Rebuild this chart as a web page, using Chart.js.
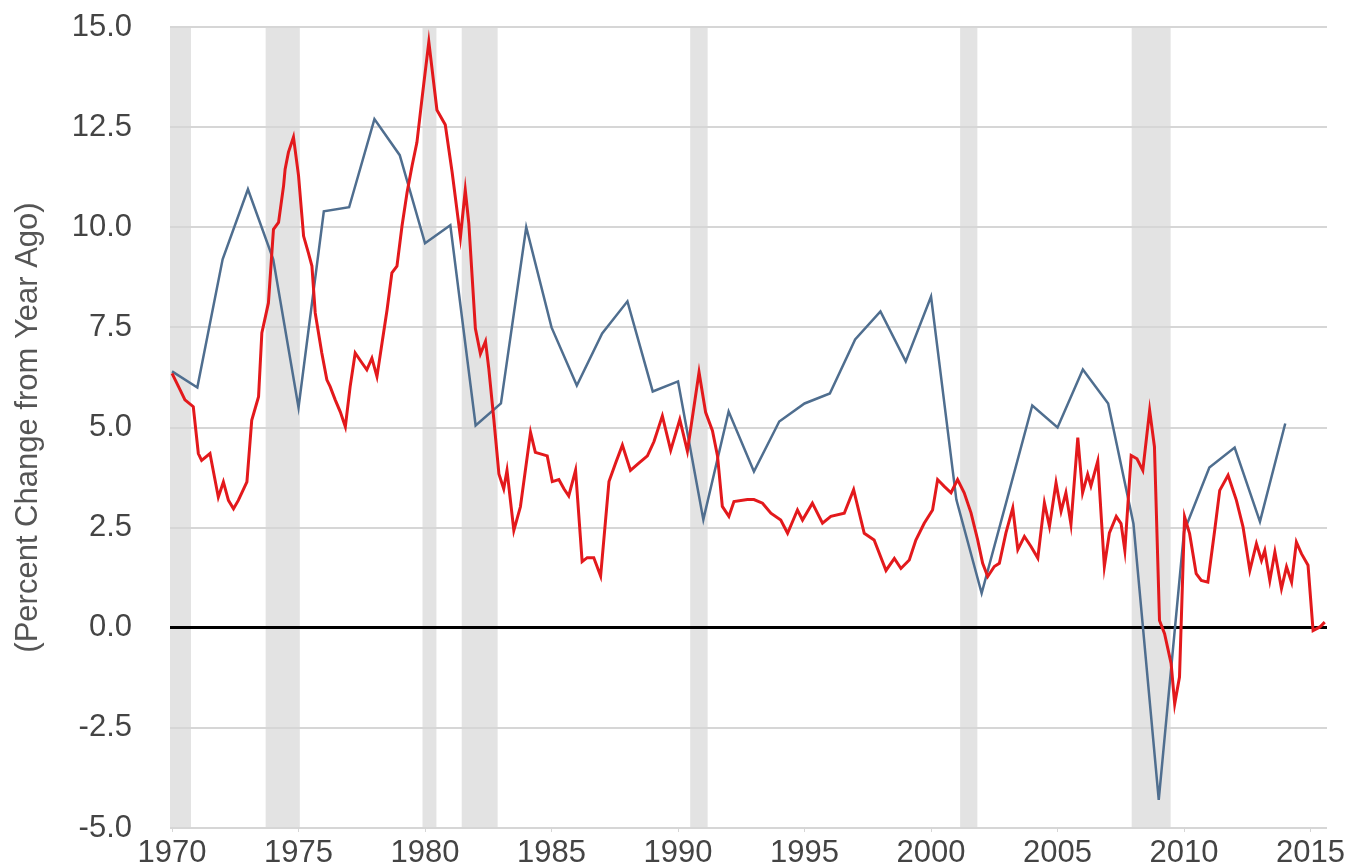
<!DOCTYPE html>
<html>
<head>
<meta charset="utf-8">
<title>Percent Change from Year Ago</title>
<script src="https://cdn.jsdelivr.net/npm/chart.js@4.4.1/dist/chart.umd.min.js"></script>
<style>
  html, body { margin: 0; padding: 0; background: #fff; }
  #wrap { width: 1360px; height: 868px; }
</style>
</head>
<body>
<div id="wrap"><canvas id="line-chart" width="1360" height="868"></canvas></div>
<script>
// annual series (blue), one point per year
const blueYears = [1970, 1971, 1972, 1973, 1974, 1975, 1976, 1977, 1978, 1979,
    1980, 1981, 1982, 1983, 1984, 1985, 1986, 1987, 1988, 1989,
    1990, 1991, 1992, 1993, 1994, 1995, 1996, 1997, 1998, 1999,
    2000, 2001, 2002, 2003, 2004, 2005, 2006, 2007, 2008, 2009,
    2010, 2011, 2012, 2013, 2014];
const blueValues = [6.4, 6.0, 9.2, 10.95, 9.2, 5.5, 10.4, 10.5, 12.7, 11.8,
    9.6, 10.05, 5.05, 5.6, 10.0, 7.5, 6.05, 7.35, 8.15, 5.9,
    6.15, 2.7, 5.4, 3.9, 5.15, 5.6, 5.85, 7.2, 7.9, 6.65,
    8.27, 3.2, 0.86, 3.2, 5.55, 5.0, 6.45, 5.6, 2.6, -4.3,
    2.4, 4.0, 4.5, 2.65, 5.1];

// monthly-ish series (red)
const redYears = [1970.0, 1970.32, 1970.51, 1970.84, 1971.04, 1971.17, 1971.5, 1971.83, 1972.03, 1972.23,
    1972.43, 1972.62, 1972.96, 1973.15, 1973.42, 1973.55, 1973.81, 1974.01, 1974.21, 1974.41,
    1974.47, 1974.6, 1974.8, 1975.0, 1975.2, 1975.39, 1975.53, 1975.66, 1975.92, 1976.12,
    1976.25, 1976.45, 1976.65, 1976.85, 1977.04, 1977.24, 1977.51, 1977.7, 1977.9, 1978.1,
    1978.3, 1978.5, 1978.69, 1978.89, 1979.09, 1979.29, 1979.49, 1979.68, 1979.88, 1980.15,
    1980.47, 1980.8, 1981.07, 1981.4, 1981.59, 1981.73, 1981.99, 1982.19, 1982.39, 1982.52,
    1982.72, 1982.92, 1983.11, 1983.24, 1983.51, 1983.77, 1984.17, 1984.36, 1984.83, 1985.03,
    1985.29, 1985.49, 1985.68, 1985.95, 1986.21, 1986.41, 1986.67, 1986.94, 1987.27, 1987.53,
    1987.8, 1988.12, 1988.45, 1988.79, 1989.05, 1989.38, 1989.71, 1990.07, 1990.37, 1990.83,
    1991.09, 1991.36, 1991.56, 1991.75, 1992.01, 1992.21, 1992.74, 1993.0, 1993.34, 1993.67,
    1994.06, 1994.33, 1994.72, 1994.92, 1995.31, 1995.71, 1996.04, 1996.57, 1996.94, 1997.36,
    1997.75, 1998.22, 1998.55, 1998.81, 1999.14, 1999.4, 1999.73, 2000.06, 2000.26, 2000.52,
    2000.79, 2001.05, 2001.31, 2001.58, 2001.84, 2002.04, 2002.24, 2002.5, 2002.7, 2002.96,
    2003.23, 2003.43, 2003.69, 2003.95, 2004.22, 2004.48, 2004.68, 2004.94, 2005.14, 2005.33,
    2005.53, 2005.8, 2005.99, 2006.19, 2006.32, 2006.59, 2006.85, 2007.05, 2007.32, 2007.51,
    2007.66, 2007.91, 2008.14, 2008.37, 2008.64, 2008.83, 2009.03, 2009.23, 2009.49, 2009.63,
    2009.82, 2010.02, 2010.22, 2010.48, 2010.68, 2010.94, 2011.21, 2011.41, 2011.74, 2012.07,
    2012.33, 2012.6, 2012.86, 2013.06, 2013.19, 2013.39, 2013.59, 2013.85, 2014.05, 2014.25,
    2014.44, 2014.64, 2014.9, 2015.1, 2015.37, 2015.56];
const redValues = [6.35, 5.94, 5.69, 5.52, 4.35, 4.18, 4.35, 3.26, 3.64, 3.18,
    2.97, 3.18, 3.64, 5.18, 5.77, 7.36, 8.11, 9.95, 10.12, 11.04,
    11.45, 11.87, 12.25, 11.29, 9.78, 9.36, 9.03, 7.86, 6.86, 6.19,
    6.02, 5.69, 5.39, 5.02, 6.02, 6.86, 6.61, 6.44, 6.73, 6.27,
    7.11, 7.94, 8.86, 9.03, 10.03, 10.87, 11.54, 12.12, 13.21, 14.63,
    12.93, 12.56, 11.38, 9.75, 10.93, 10.1, 7.47, 6.84, 7.15, 6.47,
    5.2, 3.84, 3.47, 3.93, 2.43, 3.02, 4.88, 4.38, 4.29, 3.65,
    3.7, 3.47, 3.29, 3.93, 1.65, 1.75, 1.75, 1.29, 3.65, 4.11,
    4.56, 3.93, 4.11, 4.29, 4.65, 5.29, 4.43, 5.2, 4.41, 6.38,
    5.38, 4.92, 4.29, 3.03, 2.78, 3.15, 3.2, 3.2, 3.11, 2.86,
    2.69, 2.36, 2.94, 2.69, 3.11, 2.61, 2.78, 2.86, 3.45, 2.36,
    2.19, 1.43, 1.73, 1.48, 1.69, 2.19, 2.61, 2.94, 3.7, 3.53,
    3.37, 3.7, 3.37, 2.87, 2.2, 1.61, 1.28, 1.53, 1.61, 2.37,
    2.99, 1.95, 2.28, 2.03, 1.74, 3.12, 2.53, 3.62, 2.91, 3.37,
    2.58, 4.75, 3.37, 3.83, 3.54, 4.16, 1.53, 2.37, 2.78, 2.6,
    1.93, 4.3, 4.22, 3.93, 5.43, 4.52, 0.18, -0.15, -0.9, -1.9,
    -1.23, 2.77, 2.35, 1.35, 1.18, 1.14, 2.43, 3.43, 3.81, 3.18,
    2.52, 1.43, 2.1, 1.68, 1.93, 1.18, 1.89, 0.98, 1.52, 1.14,
    2.14, 1.85, 1.56, -0.07, 0.02, 0.14];

// shaded recessions (start, end as fractional years)
const recessionStart = [1969.9, 1973.7, 1979.9, 1981.45, 1990.48, 2001.15, 2007.93];
const recessionEnd = [1970.75, 1975.05, 1980.45, 1982.87, 1991.17, 2001.83, 2009.47];

const xTicks = [1970, 1975, 1980, 1985, 1990, 1995, 2000, 2005, 2010, 2015];
const yAxisTitle = '(Percent Change from Year Ago)';

const toPoints = (xs, ys) => xs.map((x, i) => ({x: x, y: ys[i]}));

// grey bars behind everything, placed with the x scale
const recessionBands = {
    id: 'recessionBands',
    beforeDraw(chart) {
        const {ctx, chartArea, scales} = chart;
        ctx.save();
        ctx.fillStyle = '#e3e3e3';
        recessionStart.forEach((s, i) => {
            const x0 = Math.max(scales.x.getPixelForValue(s), chartArea.left);
            const x1 = Math.min(scales.x.getPixelForValue(recessionEnd[i]), chartArea.right);
            ctx.fillRect(x0, chartArea.top, x1 - x0, chartArea.bottom - chartArea.top);
        });
        ctx.restore();
    }
};

const ctx = document.getElementById('line-chart').getContext('2d');
const myChart = new Chart(ctx, {
    type: 'line',
    data: {
        datasets: [
            {
                label: 'red',
                data: toPoints(redYears, redValues),
                borderColor: '#e3191c',
                borderWidth: 3,
                pointRadius: 0,
                tension: 0,
                fill: false
            },
            {
                label: 'blue',
                data: toPoints(blueYears, blueValues),
                borderColor: '#4f6e8f',
                borderWidth: 2.5,
                pointRadius: 0,
                tension: 0,
                fill: false
            }
        ]
    },
    options: {
        responsive: false,
        devicePixelRatio: 1,
        animation: false,
        layout: {
            padding: {top: 27, right: 33, bottom: 0, left: 0}
        },
        plugins: {
            legend: {display: false},
            tooltip: {enabled: false}
        },
        scales: {
            x: {
                type: 'linear',
                min: 1969.92,
                max: 2015.65,
                afterBuildTicks: (axis) => {
                    axis.ticks = xTicks.map(v => ({value: v}));
                },
                afterFit: (axis) => {
                    axis.height = 40;
                    axis.paddingLeft = 0;
                    axis.paddingRight = 0;
                },
                grid: {
                    drawOnChartArea: false,
                    drawTicks: true,
                    tickLength: 4,
                    color: '#d6d6d6',
                    lineWidth: 1
                },
                border: {display: false},
                ticks: {
                    padding: 3,
                    maxRotation: 0,
                    autoSkip: false,
                    color: '#444',
                    font: {family: '"Liberation Sans", Arial, sans-serif', size: 31},
                    callback: (v) => String(v)
                }
            },
            y: {
                min: -5,
                max: 15,
                afterFit: (axis) => {
                    axis.width = 170;
                    axis.paddingTop = 0;
                    axis.paddingBottom = 0;
                },
                grid: {
                    drawTicks: false,
                    color: (c) => c.tick && c.tick.value === 0 ? '#000' : '#d6d6d6',
                    lineWidth: (c) => c.tick && c.tick.value === 0 ? 3 : 2
                },
                border: {display: false},
                ticks: {
                    stepSize: 2.5,
                    padding: 38,
                    color: '#444',
                    font: {family: '"Liberation Sans", Arial, sans-serif', size: 31},
                    callback: (v) => Number(v).toFixed(1)
                },
                title: {
                    display: true,
                    text: yAxisTitle,
                    color: '#555',
                    padding: {top: 10, bottom: 0},
                    font: {family: '"Liberation Sans", Arial, sans-serif', size: 31}
                }
            }
        }
    },
    plugins: [recessionBands]
});
</script>
</body>
</html>
